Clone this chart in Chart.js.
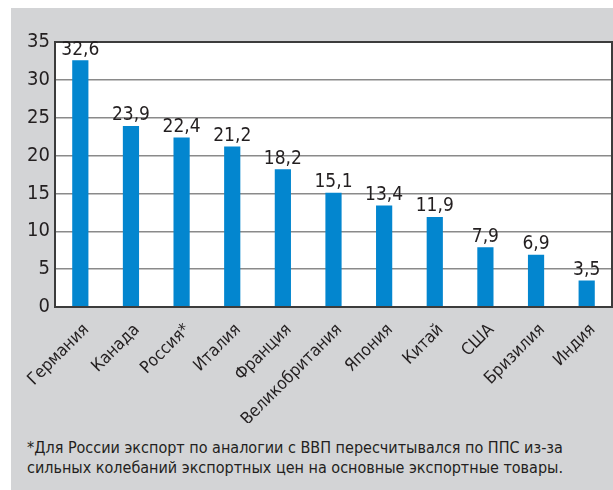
<!DOCTYPE html>
<html>
<head>
<meta charset="utf-8">
<script src="https://cdn.jsdelivr.net/npm/chart.js@4/dist/chart.umd.min.js"></script>
<style>
  html, body { margin: 0; padding: 0; background: #fff; }
  body { width: 613px; height: 490px; position: relative; overflow: hidden; }
  #panel { position: absolute; left: 11px; top: 8px; width: 602px; height: 482px; background: #d3d4d6; }
  #wrap { position: absolute; left: 0; top: 0; width: 602px; height: 415px; }
  #note { position: absolute; left: 16px; top: 430px; font-family: "Liberation Sans Narrow", "DejaVu Sans Condensed", sans-serif;
          font-size: 16px; line-height: 20px; color: #231f20; }
</style>
</head>
<body>
<div id="panel">
  <div id="wrap"><canvas id="chartCanvas"></canvas></div>
  <div id="note">*Для России экспорт по аналогии с ВВП пересчитывался по ППС из-за<br>сильных колебаний экспортных цен на основные экспортные товары.</div>
</div>
<script>
const countries = ["Германия", "Канада", "Россия*", "Италия", "Франция", "Великобритания", "Япония", "Китай", "США", "Бризилия", "Индия"];
const exportShare = [32.6, 23.9, 22.4, 21.2, 18.2, 15.1, 13.4, 11.9, 7.9, 6.9, 3.5];
const yTicks = [0, 5, 10, 15, 20, 25, 30, 35];

const fontFamily = '"Liberation Sans Narrow", "DejaVu Sans Condensed", sans-serif';
const textColor = "#231f20";

// white plot area + dark frame + value labels
const frame = {
  id: "frame",
  beforeDraw(chart) {
    const a = chart.chartArea, ctx = chart.ctx;
    ctx.save();
    ctx.fillStyle = "#fff";
    ctx.fillRect(a.left, a.top, a.right - a.left, a.bottom - a.top);
    ctx.restore();
  },
  afterDatasetsDraw(chart) {
    const a = chart.chartArea, ctx = chart.ctx;
    ctx.save();
    ctx.strokeStyle = "#3c3c3c";
    ctx.lineWidth = 2;
    ctx.strokeRect(a.left, a.top, a.right - a.left, a.bottom - a.top);
    ctx.fillStyle = textColor;
    ctx.font = "19px " + fontFamily;
    ctx.textAlign = "center";
    ctx.textBaseline = "bottom";
    chart.getDatasetMeta(0).data.forEach((bar, i) => {
      ctx.fillText(exportShare[i].toFixed(1).replace(".", ","), bar.x, bar.y - 1);
    });
    ctx.restore();
  }
};

const ctx = document.getElementById("chartCanvas").getContext("2d");
new Chart(ctx, {
  type: "bar",
  data: {
    labels: countries,
    datasets: [{
      data: exportShare,
      backgroundColor: "#0386cf",
      barPercentage: 0.32,
      categoryPercentage: 1
    }]
  },
  options: {
    responsive: true,
    maintainAspectRatio: false,
    animation: false,
    layout: { padding: { top: 34, right: 1, left: 0, bottom: 0 } },
    plugins: { legend: { display: false }, tooltip: { enabled: false } },
    scales: {
      x: {
        grid: { display: false },
        border: { display: false },
        ticks: {
          color: textColor,
          font: { family: fontFamily, size: 17 },
          minRotation: 45, maxRotation: 45,
          padding: 5,
          labelOffset: 6,
          autoSkip: false
        },
        afterFit(scale) { scale.height = 116; }
      },
      y: {
        min: 0, max: 35,
        afterBuildTicks(scale) { scale.ticks = yTicks.map(v => ({ value: v })); },
        grid: { color: "#8a8a8a", lineWidth: 1.5, drawTicks: false },
        border: { display: false },
        ticks: {
          color: textColor,
          font: { family: fontFamily, size: 20 },
          padding: 5
        },
        afterFit(scale) { scale.width = 44; }
      }
    }
  },
  plugins: [frame]
});
</script>
</body>
</html>
